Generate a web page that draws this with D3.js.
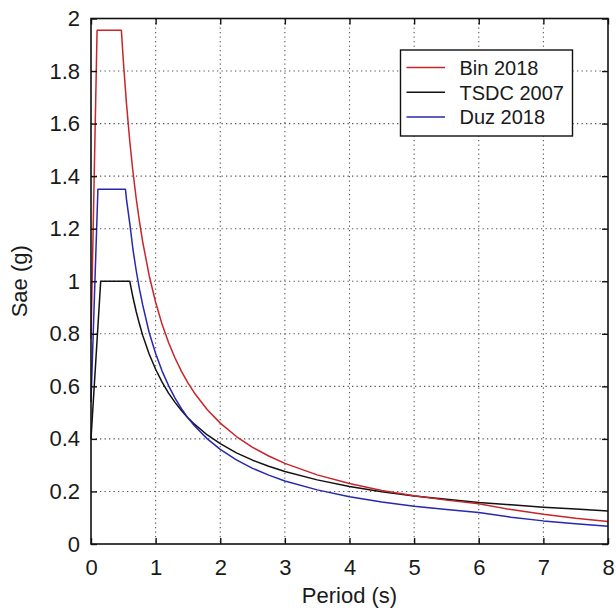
<!DOCTYPE html>
<html>
<head>
<meta charset="utf-8">
<script src="https://cdn.jsdelivr.net/npm/d3@7/dist/d3.min.js"></script>
<style>
  html, body { margin: 0; padding: 0; background: #fff; }
  svg { display: block; }
  text { font-family: "Liberation Sans", Arial, Helvetica, sans-serif; fill: #1a1a1a; }
</style>
</head>
<body>
<script>
// ---- data ----
const xTicks = [0, 1, 2, 3, 4, 5, 6, 7, 8];
const yTicks = [0, 0.2, 0.4, 0.6, 0.8, 1, 1.2, 1.4, 1.6, 1.8, 2];
const seriesNames = ["Bin 2018", "TSDC 2007", "Duz 2018"];

const binT   = [0, 0.094, 0.47, 0.5, 0.55, 0.6, 0.65, 0.7, 0.75, 0.8, 0.9, 1.0, 1.1, 1.2, 1.3, 1.4, 1.5, 1.6, 1.8, 2.0, 2.25, 2.5, 2.75, 3, 3.5, 4, 4.5, 5, 5.5, 6, 6.5, 7, 7.5, 8];
const binSae = [0.78, 1.955, 1.955, 1.84, 1.673, 1.533, 1.415, 1.314, 1.227, 1.15, 1.022, 0.92, 0.836, 0.767, 0.708, 0.657, 0.613, 0.575, 0.511, 0.46, 0.409, 0.368, 0.335, 0.307, 0.263, 0.23, 0.204, 0.184, 0.167, 0.153, 0.131, 0.113, 0.098, 0.086];

const tsdcT   = [0, 0.15, 0.6, 0.65, 0.7, 0.75, 0.8, 0.9, 1.0, 1.1, 1.2, 1.3, 1.4, 1.5, 1.6, 1.8, 2.0, 2.25, 2.5, 2.75, 3, 3.5, 4, 4.5, 5, 5.5, 6, 6.5, 7, 7.5, 8];
const tsdcSae = [0.4, 1.0, 1.0, 0.938, 0.884, 0.837, 0.794, 0.723, 0.665, 0.616, 0.574, 0.539, 0.508, 0.48, 0.456, 0.415, 0.382, 0.347, 0.319, 0.296, 0.276, 0.244, 0.219, 0.199, 0.183, 0.17, 0.158, 0.149, 0.14, 0.133, 0.126];

const duzT   = [0, 0.107, 0.533, 0.55, 0.6, 0.65, 0.7, 0.75, 0.8, 0.9, 1.0, 1.1, 1.2, 1.3, 1.4, 1.5, 1.6, 1.8, 2.0, 2.25, 2.5, 2.75, 3, 3.5, 4, 4.5, 5, 5.5, 6, 6.5, 7, 7.5, 8];
const duzSae = [0.54, 1.35, 1.35, 1.31, 1.22, 1.12, 1.04, 0.97, 0.91, 0.805, 0.725, 0.658, 0.603, 0.555, 0.515, 0.48, 0.45, 0.4, 0.36, 0.32, 0.288, 0.262, 0.24, 0.206, 0.18, 0.16, 0.144, 0.131, 0.12, 0.102, 0.088, 0.077, 0.068];

const colors = ["#c8252b", "#111111", "#2727b0"];

// ---- layout ----
const W = 616, H = 608;
const m = { left: 91, right: 8, top: 18.5, bottom: 64 };
const iw = W - m.left - m.right, ih = H - m.top - m.bottom;

const svg = d3.select("body").append("svg").attr("width", W).attr("height", H);
const g = svg.append("g").attr("transform", `translate(${m.left},${m.top})`);

const x = d3.scaleLinear().domain([0, 8]).range([0, iw]);
const y = d3.scaleLinear().domain([0, 2]).range([ih, 0]);

// grid
const grid = g.append("g").attr("stroke", "#555").attr("stroke-width", 1.1).attr("stroke-dasharray", "1.3,3.2");
grid.selectAll("line.vx").data(xTicks.slice(1, -1)).join("line")
  .attr("x1", d => x(d)).attr("x2", d => x(d)).attr("y1", 0).attr("y2", ih);
grid.selectAll("line.hy").data(yTicks.slice(1, -1)).join("line")
  .attr("y1", d => y(d)).attr("y2", d => y(d)).attr("x1", 0).attr("x2", iw);

// curves
const line = d3.line().x(d => x(d[0])).y(d => y(d[1])).curve(d3.curveLinear);
const series = [d3.zip(binT, binSae), d3.zip(tsdcT, tsdcSae), d3.zip(duzT, duzSae)];
[1, 2, 0].forEach(i => {
  g.append("path").datum(series[i]).attr("d", line)
    .attr("fill", "none").attr("stroke", colors[i]).attr("stroke-width", 1.5)
    .attr("stroke-linejoin", "round");
});

// axes (ticks inward on all sides)
const fmt = d => d3.format("")(d);
const axB = g.append("g").attr("transform", `translate(0,${ih})`)
  .call(d3.axisBottom(x).tickValues(xTicks).tickSizeInner(-6).tickSizeOuter(0).tickPadding(15).tickFormat(fmt));
const axL = g.append("g")
  .call(d3.axisLeft(y).tickValues(yTicks).tickSizeInner(-6).tickSizeOuter(0).tickPadding(11).tickFormat(fmt));
const axT = g.append("g")
  .call(d3.axisTop(x).tickValues(xTicks).tickSizeInner(-6).tickSizeOuter(0).tickFormat(""));
const axR = g.append("g").attr("transform", `translate(${iw},0)`)
  .call(d3.axisRight(y).tickValues(yTicks).tickSizeInner(-6).tickSizeOuter(0).tickFormat(""));
[axB, axL, axT, axR].forEach(a => {
  a.select(".domain").remove();
  a.selectAll(".tick line").attr("stroke", "#111").attr("stroke-width", 1.4);
  a.selectAll(".tick text").attr("font-size", 22).attr("fill", "#1a1a1a")
    .attr("font-family", "'Liberation Sans', Arial, sans-serif");
});
axB.selectAll(".tick text").attr("dy", "0.71em");

// frame
g.append("rect").attr("x", 0).attr("y", 0).attr("width", iw).attr("height", ih)
  .attr("fill", "none").attr("stroke", "#111").attr("stroke-width", 1.6);

// axis labels
svg.append("text").attr("x", m.left + iw / 2).attr("y", 603)
  .attr("text-anchor", "middle").attr("font-size", 22).text("Period (s)");
svg.append("text").attr("transform", `translate(27,${m.top + ih / 2}) rotate(-90)`)
  .attr("text-anchor", "middle").attr("font-size", 22).text("Sae (g)");

// legend
const lg = svg.append("g").attr("transform", "translate(400.5,50)");
lg.append("rect").attr("width", 172).attr("height", 86)
  .attr("fill", "#fff").attr("stroke", "#111").attr("stroke-width", 1.4);
seriesNames.forEach((n, i) => {
  const yy = 17.5 + i * 24.8;
  lg.append("line").attr("x1", 6).attr("x2", 44.5).attr("y1", yy).attr("y2", yy)
    .attr("stroke", colors[i]).attr("stroke-width", 1.5);
  lg.append("text").attr("x", 59).attr("y", yy).attr("dy", "0.36em")
    .attr("font-size", 20).text(n);
});
</script>
</body>
</html>
